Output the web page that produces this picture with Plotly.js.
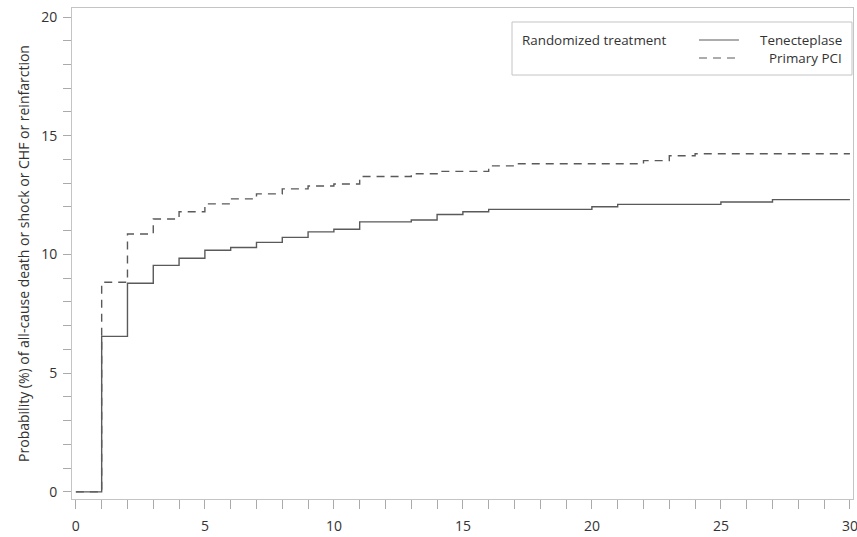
<!DOCTYPE html>
<html>
<head>
<meta charset="utf-8">
<script src="https://cdn.plot.ly/plotly-3.0.1.min.js"></script>
<style>
  html, body { margin: 0; padding: 0; background: #ffffff; }
  #chart { width: 857px; height: 537px; }
</style>
</head>
<body>
<div id="chart"></div>
<script>
// Step-change times (days) and cumulative probabilities (%)
const tenecteplaseDays = [0, 1, 2, 3, 4, 5, 6, 7, 8, 9, 10, 11, 13, 14, 15, 16, 20, 21, 25, 27, 30];
const tenecteplaseProb = [0, 6.55, 8.79, 9.54, 9.84, 10.18, 10.29, 10.51, 10.72, 10.95, 11.06, 11.37, 11.45, 11.68, 11.80, 11.90, 12.01, 12.11, 12.21, 12.31, 12.31];

const pciDays = [0, 1, 2, 3, 4, 5, 6, 7, 8, 9, 10, 11, 13, 14, 16, 17, 22, 23, 24, 30];
const pciProb = [0, 8.83, 10.86, 11.49, 11.80, 12.13, 12.34, 12.55, 12.76, 12.88, 12.97, 13.28, 13.40, 13.50, 13.73, 13.82, 13.95, 14.16, 14.24, 14.24];

const seriesNames = ['Tenecteplase', 'Primary PCI'];
const legendTitle = 'Randomized treatment';
const yTitle = 'Probability (%) of all-cause death or shock or CHF or reinfarction';
const xTickVals = [0, 5, 10, 15, 20, 25, 30];
const yTickVals = [0, 5, 10, 15, 20];

const lineColor = '#5a5a5a';
const textColor = '#333333';
const fontFam = '"Open Sans", "Noto Sans", sans-serif';

const traces = [
  {
    x: tenecteplaseDays, y: tenecteplaseProb, name: seriesNames[0],
    mode: 'lines', line: { shape: 'hv', color: lineColor, width: 1.4 },
    hoverinfo: 'skip', showlegend: false
  },
  {
    x: pciDays, y: pciProb, name: seriesNames[1],
    mode: 'lines', line: { shape: 'hv', color: lineColor, width: 1.4, dash: '8px,6px' },
    hoverinfo: 'skip', showlegend: false
  }
];

// legend box geometry (paper coords)
const lg = { x0: 0.5634, x1: 0.9987, y0: 0.8635, y1: 0.9715,
             tx: 0.5749, sx0: 0.8028, sx1: 0.8540, rx: 0.9872, r1: 0.9348, r2: 0.8982 };

const layout = {
  width: 857, height: 537,
  margin: { l: 72, r: 4, t: 8, b: 38 },
  paper_bgcolor: '#ffffff', plot_bgcolor: '#ffffff',
  font: { family: fontFam, size: 13, color: textColor },
  showlegend: false,
  xaxis: {
    range: [-0.15, 30.12],
    tickvals: xTickVals,
    ticks: 'outside', ticklen: 9, tickcolor: '#aaaaaa', tickwidth: 1,
    minor: { dtick: 1, ticks: 'outside', ticklen: 9, tickcolor: '#aaaaaa', tickwidth: 1, showgrid: false },
    showline: true, linecolor: '#c4c4c4', linewidth: 1, mirror: true,
    showgrid: false, zeroline: false,
    tickfont: { size: 14, color: textColor },
    ticklabelstandoff: 5,
    ticklabeloverflow: 'allow'
  },
  yaxis: {
    range: [-0.3, 20.38],
    tickvals: yTickVals,
    ticks: 'outside', ticklen: 8, tickcolor: '#aaaaaa', tickwidth: 1,
    minor: { dtick: 1, ticks: 'outside', ticklen: 8, tickcolor: '#aaaaaa', tickwidth: 1, showgrid: false },
    showline: true, linecolor: '#c4c4c4', linewidth: 1, mirror: true,
    showgrid: false, zeroline: false,
    tickfont: { size: 14, color: textColor },
    ticklabelstandoff: 3,
    title: { text: yTitle, font: { size: 14, color: textColor }, standoff: 8 }
  },
  shapes: [
    { type: 'rect', xref: 'paper', yref: 'paper', x0: lg.x0, x1: lg.x1, y0: lg.y0, y1: lg.y1,
      line: { color: '#c4c4c4', width: 1 }, fillcolor: 'rgba(0,0,0,0)' },
    { type: 'line', xref: 'paper', yref: 'paper', x0: lg.sx0, x1: lg.sx1, y0: lg.r1, y1: lg.r1,
      line: { color: lineColor, width: 1.2 } },
    { type: 'line', xref: 'paper', yref: 'paper', x0: lg.sx0, x1: lg.sx1, y0: lg.r2, y1: lg.r2,
      line: { color: lineColor, width: 1.2, dash: '8px,6px' } }
  ],
  annotations: [
    { xref: 'paper', yref: 'paper', x: lg.tx, y: lg.r1, xanchor: 'left', yanchor: 'middle',
      text: legendTitle, showarrow: false, borderpad: 0, font: { size: 13.4, color: textColor } },
    { xref: 'paper', yref: 'paper', x: lg.rx, y: lg.r1, xanchor: 'right', yanchor: 'middle',
      text: seriesNames[0], showarrow: false, borderpad: 0, font: { size: 13.4, color: textColor } },
    { xref: 'paper', yref: 'paper', x: lg.rx, y: lg.r2, xanchor: 'right', yanchor: 'middle',
      text: seriesNames[1], showarrow: false, borderpad: 0, font: { size: 13.4, color: textColor } }
  ]
};

Plotly.newPlot('chart', traces, layout, { displayModeBar: false, staticPlot: true });
</script>
</body>
</html>
